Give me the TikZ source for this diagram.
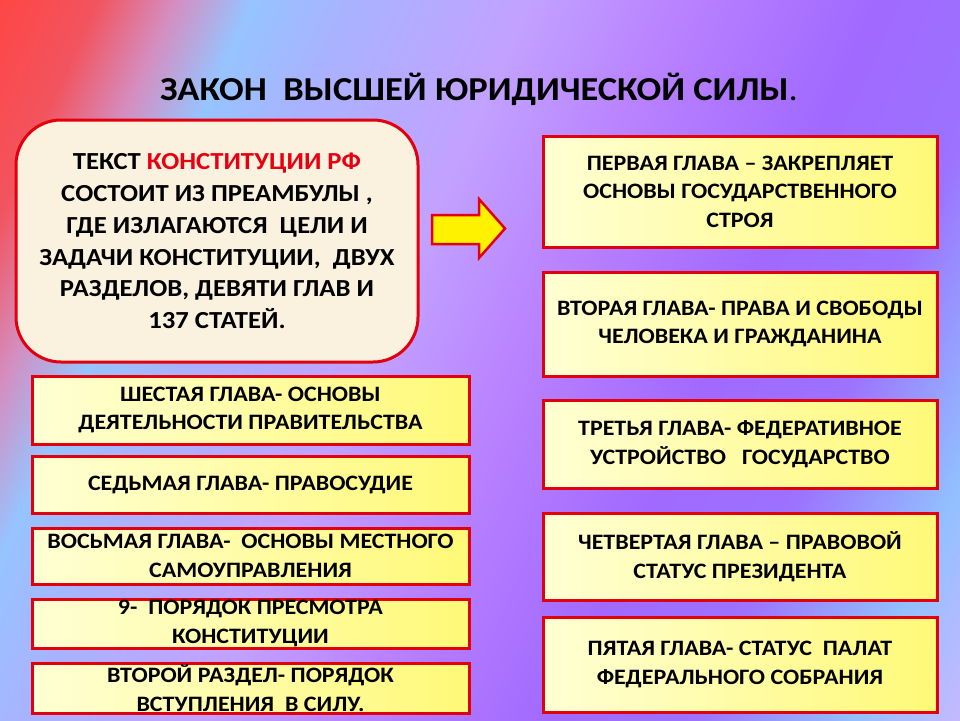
\documentclass[tikz,border=0pt]{standalone}
\usepackage{fontspec}
\setmainfont{Carlito}[FakeStretch=1.09]
\usepackage{tikz}
\definecolor{bred}{HTML}{E2000E}
\definecolor{tred}{HTML}{E80010}
\definecolor{paper}{HTML}{FAF1DF}
\definecolor{ylight}{HTML}{FFFFD4}
\definecolor{ydark}{HTML}{FFF977}
\definecolor{c0}{HTML}{FF4646}
\definecolor{c1}{HTML}{F2545F}
\definecolor{c2}{HTML}{D48EC0}
\definecolor{c3}{HTML}{96C4FF}
\definecolor{c4}{HTML}{A9B2FF}
\definecolor{c5}{HTML}{C2A2FF}
\definecolor{c6}{HTML}{B982FF}
\definecolor{c7}{HTML}{A169FF}
\definecolor{c8}{HTML}{9C72FF}
\definecolor{c9}{HTML}{92C0FF}
\definecolor{c10}{HTML}{C8B8FF}
\pgfdeclarehorizontalshading{fon}{100bp}{color(0bp)=(c0); color(25bp)=(c0);
  color(28.8bp)=(c1); color(31.8bp)=(c2); color(34.8bp)=(c3); color(38.6bp)=(c4);
  color(45.4bp)=(c5); color(51.4bp)=(c6); color(59bp)=(c7); color(64.6bp)=(c8);
  color(70.7bp)=(c9); color(75bp)=(c10); color(100bp)=(c10)}
\begin{document}
\begin{tikzpicture}[x=1pt,y=-1pt,
  glava/.style={draw=bred,line width=3pt,left color=ylight,right color=ydark,
    align=center,inner sep=0pt,font=\bfseries\fontsize{22}{28.5}\selectfont},
  right glava/.style={glava,minimum width=394pt},
  left glava/.style={glava,minimum width=437pt},
  tekst box/.style={draw=bred,line width=3pt,fill=paper,rounded corners=45pt,
    align=center,inner sep=0pt,minimum width=402pt,minimum height=242pt,
    font=\bfseries\fontsize{24.5}{31.7}\selectfont}]
\useasboundingbox (0,0) rectangle (960,720);
\begin{scope}
\clip (0,0) rectangle (960,720);
\begin{scope}[transform canvas={rotate around={-24.4:(0,0)}}]
\shade[shading=fon] (0,-400) rectangle (1175,660);
\end{scope}
\end{scope}
\node[font=\bfseries\fontsize{33.5}{38}\selectfont,anchor=base] (title) at (479,100)
  {ЗАКОН\ \ ВЫСШЕЙ ЮРИДИЧЕСКОЙ СИЛЫ{\mdseries .}};
\node[tekst box] (tekst) at (217,241) {ТЕКСТ \textcolor{tred}{КОНСТИТУЦИИ РФ}\\
  СОСТОИТ ИЗ ПРЕАМБУЛЫ ,\\ ГДЕ ИЗЛАГАЮТСЯ\ \ ЦЕЛИ И\\ ЗАДАЧИ КОНСТИТУЦИИ,\ \ ДВУХ\\
  РАЗДЕЛОВ, ДЕВЯТИ ГЛАВ И\\ 137 СТАТЕЙ.};
\draw[bred,line width=2.5pt,fill=yellow,line join=miter] (432,215) -- (479,215) -- (479,199)
  -- (505,228.5) -- (479,258) -- (479,244) -- (432,244) -- cycle;
\node[right glava,minimum height=111pt] (g1) at (740,191.5)
  {ПЕРВАЯ ГЛАВА -- ЗАКРЕПЛЯЕТ\\ ОСНОВЫ ГОСУДАРСТВЕННОГО\\ СТРОЯ};
\node[right glava,minimum height=104pt] (g2) at (740,324)
  {ВТОРАЯ ГЛАВА- ПРАВА И СВОБОДЫ\\ ЧЕЛОВЕКА И ГРАЖДАНИНА};
\node[right glava,minimum height=88pt] (g3) at (740,444)
  {ТРЕТЬЯ ГЛАВА- ФЕДЕРАТИВНОЕ\\ УСТРОЙСТВО\ \ \ ГОСУДАРСТВО};
\node[right glava,minimum height=87pt] (g4) at (740,556.5)
  {ЧЕТВЕРТАЯ ГЛАВА -- ПРАВОВОЙ\\ СТАТУС ПРЕЗИДЕНТА};
\node[right glava,minimum height=95pt] (g5) at (740,664.5)
  {ПЯТАЯ ГЛАВА- СТАТУС\ \ ПАЛАТ\\ ФЕДЕРАЛЬНОГО СОБРАНИЯ};
\node[left glava,minimum height=68pt] (g6) at (250.5,410)
  {ШЕСТАЯ ГЛАВА- ОСНОВЫ\\ ДЕЯТЕЛЬНОСТИ ПРАВИТЕЛЬСТВА};
\node[left glava,minimum height=57pt] (g7) at (250.5,484.5)
  {СЕДЬМАЯ ГЛАВА- ПРАВОСУДИЕ};
\node[left glava,minimum height=56pt] (g8) at (250.5,556)
  {ВОСЬМАЯ ГЛАВА-\ \ ОСНОВЫ МЕСТНОГО\\ САМОУПРАВЛЕНИЯ};
\node[left glava,minimum height=49pt] (g9) at (250.5,623.5)
  {9-\ \ ПОРЯДОК ПРЕСМОТРА\\ КОНСТИТУЦИИ};
\node[left glava,minimum height=50pt] (g10) at (250.5,688)
  {ВТОРОЙ РАЗДЕЛ- ПОРЯДОК\\ ВСТУПЛЕНИЯ\ \ В СИЛУ.};
\end{tikzpicture}
\end{document}
